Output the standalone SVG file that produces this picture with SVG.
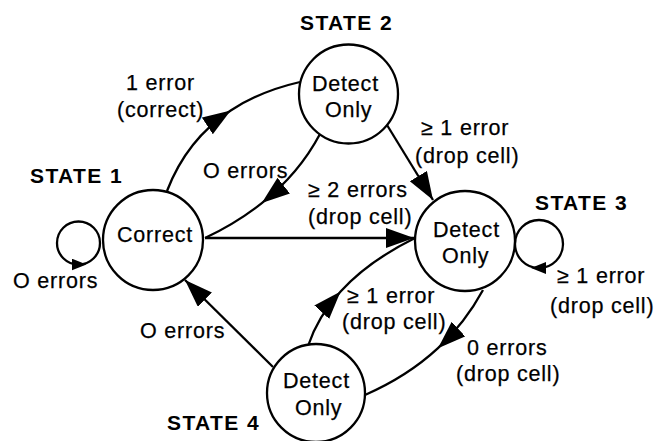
<svg xmlns="http://www.w3.org/2000/svg" width="663" height="441" viewBox="0 0 663 441">
<style>
.node{fill:#fff;stroke:#000;stroke-width:2.3}
.edge{fill:none;stroke:#000;stroke-width:2.3}
text{font-family:"Liberation Sans",Arial,Helvetica,sans-serif;fill:#000}
.lbl{font-size:21.5px;letter-spacing:0.8px;stroke:#000;stroke-width:0.25}
.st{font-size:21px;font-weight:bold;letter-spacing:1.4px}
</style>
<defs>
<marker id="ah" markerUnits="userSpaceOnUse" markerWidth="30" markerHeight="22" refX="28" refY="10" orient="auto" viewBox="0 0 30 22">
<path d="M0,0 L28,10 L0,20 Z" fill="#000"/>
</marker>
<marker id="ahs" markerUnits="userSpaceOnUse" markerWidth="16" markerHeight="13" refX="7" refY="6" orient="auto" viewBox="0 0 16 13">
<path d="M0,0 L15,6 L0,12 Z" fill="#000"/>
</marker>
</defs>
<rect width="663" height="441" fill="#fff"/>
<g id="connectors">
<path class="edge" d="M167,191 Q186.8,139.4 230.7,110.5 Q260,91.2 300,82" marker-mid="url(#ah)"/>
<path class="edge" d="M320,134 Q299,173.6 261.8,203.1 Q237,222.8 205,238" marker-mid="url(#ah)"/>
<path class="edge" d="M205,238 L414,238" marker-end="url(#ah)"/>
<path class="edge" d="M387,125 L433,200" marker-end="url(#ah)"/>
<path class="edge" d="M308,346 Q317.9,316.3 340.6,291.5 Q368.3,261.1 415,238" marker-mid="url(#ah)"/>
<path class="edge" d="M483,290 Q465.1,322.9 438,348.2 Q407.4,376.5 365,395" marker-mid="url(#ah)"/>
<path class="edge" d="M273,367 L185,280" marker-end="url(#ah)"/>
<path class="edge" d="M78.5,221.5 A21.5,21.5 0 0 0 78.5,264.5 A21.5,21.5 0 0 0 78.5,221.5" marker-mid="url(#ahs)"/>
<path class="edge" d="M539,220 A24,24 0 0 1 539,268 A24,24 0 0 1 539,220" marker-mid="url(#ahs)"/>
<text class="lbl" x="126" y="90">1 error</text>
<text class="lbl" x="117" y="117">(correct)</text>
<text class="lbl" x="203" y="178">O errors</text>
<text class="lbl" x="421" y="135">≥ 1 error</text>
<text class="lbl" x="415" y="163">(drop cell)</text>
<text class="lbl" x="308" y="197">≥ 2 errors</text>
<text class="lbl" x="308" y="224">(drop cell)</text>
<text class="lbl" x="347" y="303">≥ 1 error</text>
<text class="lbl" x="342" y="329">(drop cell)</text>
<text class="lbl" x="467" y="355">0 errors</text>
<text class="lbl" x="456" y="381">(drop cell)</text>
<text class="lbl" x="140" y="338">O errors</text>
<text class="lbl" x="13" y="288">O errors</text>
<text class="lbl" x="557" y="283">≥ 1 error</text>
<text class="lbl" x="550" y="313">(drop cell)</text>
</g>
<g id="state1">
<circle class="node" cx="153" cy="240" r="50"/>
<text class="lbl" x="117" y="242">Correct</text>
<text class="st" x="30" y="183">STATE 1</text>
</g>
<g id="state2">
<circle class="node" cx="348.5" cy="94" r="49.5"/>
<text class="lbl" x="312" y="91">Detect</text>
<text class="lbl" x="325" y="117">Only</text>
<text class="st" x="300" y="30">STATE 2</text>
</g>
<g id="state3">
<circle class="node" cx="465" cy="241" r="50"/>
<text class="lbl" x="433" y="237">Detect</text>
<text class="lbl" x="442" y="263">Only</text>
<text class="st" x="535" y="210">STATE 3</text>
</g>
<g id="state4">
<circle class="node" cx="316" cy="393" r="49"/>
<text class="lbl" x="283" y="388">Detect</text>
<text class="lbl" x="295" y="415">Only</text>
<text class="st" x="167" y="430">STATE 4</text>
</g>
</svg>
